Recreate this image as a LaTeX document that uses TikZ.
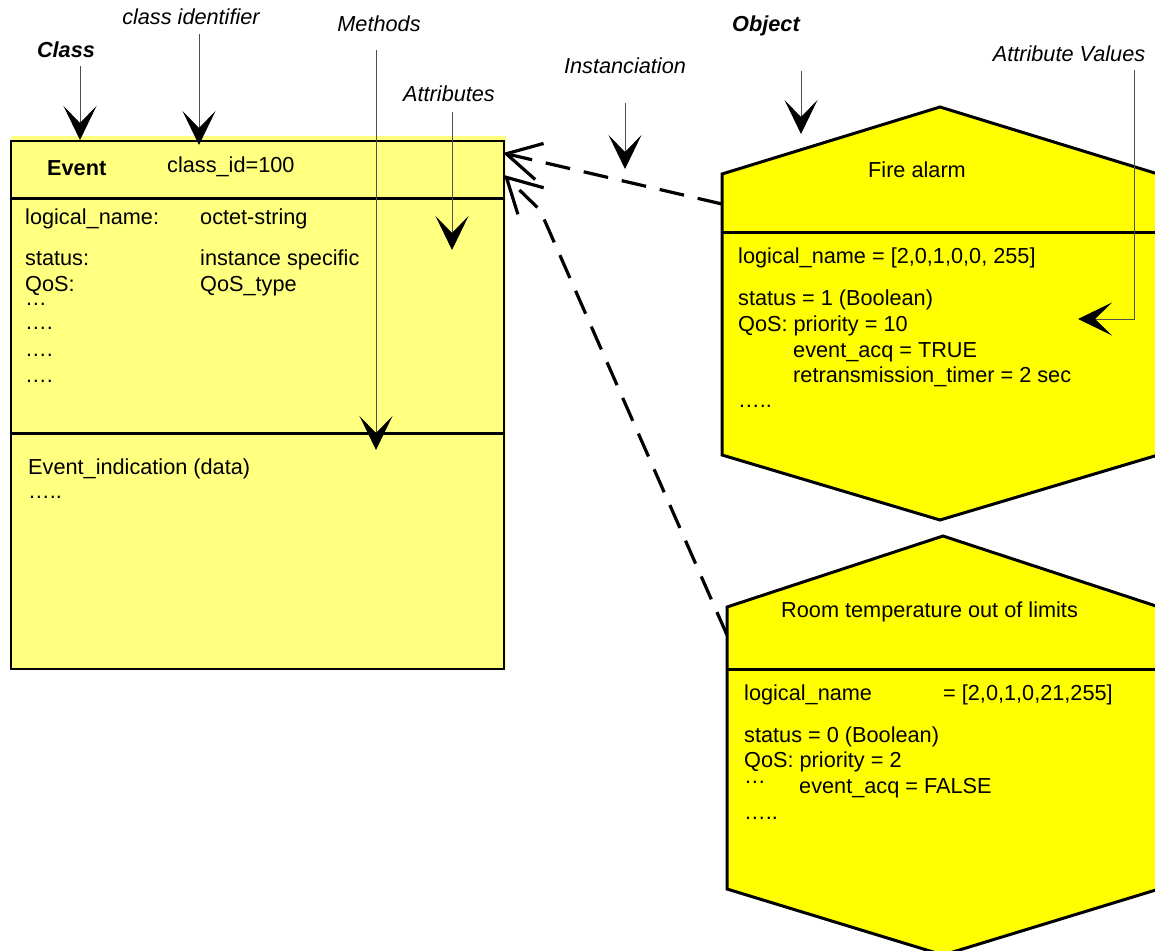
\documentclass[tikz,border=0pt]{standalone}
\usepackage{fontspec}
\setmainfont{Liberation Sans}
\usetikzlibrary{arrows.meta}
\definecolor{classyellow}{RGB}{255,255,128}
\definecolor{objyellow}{RGB}{255,255,0}
\definecolor{pointercol}{RGB}{80,80,80}
\newcommand{\dgfont}{\fontsize{21.7}{26}\selectfont}
\begin{document}
\begin{tikzpicture}[x=1pt,y=-1pt,
  txt/.style={anchor=base west, inner sep=0pt, font=\dgfont},
  ctxt/.style={anchor=base, inner sep=0pt, font=\dgfont},
  lbl/.style={anchor=base, inner sep=0pt, font=\dgfont\itshape},
  blbl/.style={anchor=base, inner sep=0pt, font=\dgfont\bfseries\itshape},
  pointer/.style={draw=pointercol, line width=0.9pt,
    -{Stealth[length=34pt,width=33pt,inset=17pt,color=black]}},
  inst/.style={line width=3.2pt, dash pattern=on 25pt off 14pt,
    -{Straight Barb[length=34pt,width=37pt]}},
  hexa/.style={draw=black, fill=objyellow, line width=3pt, line join=miter},
  divider/.style={line width=3pt}
]
\useasboundingbox (0,0) rectangle (1155,950);

% ---------- Class box ----------
\fill[classyellow] (11,136) rectangle (506,668);
\node[draw=black, line width=1.6pt, minimum width=493pt, minimum height=528pt,
      inner sep=0pt, anchor=north west] (cls) at (10,140) {};
\draw[divider] (cls.west |- 0,198) -- (cls.east |- 0,198);
\draw[divider] (cls.west |- 0,433) -- (cls.east |- 0,433);

\node[txt, font=\dgfont\bfseries] (cname) at (47,175) {Event};
\node[txt] (cid) at (167,172) {class\_id=100};
\node[txt] (a1) at (25,224) {logical\_name:};
\node[txt] (a1t) at (200,224) {octet-string};
\node[txt] (a2) at (25,265) {status:};
\node[txt] (a2t) at (200,265) {instance specific};
\node[txt] (a3) at (25,291) {QoS:};
\node[txt] (a3t) at (200,291) {QoS\_type};
\node[txt] (a4) at (25,305) {…};
\node[txt] (a5) at (25,329) {….};
\node[txt] (a6) at (25,356) {….};
\node[txt] (a7) at (25,382) {….};
\node[txt] (m1) at (28,474) {Event\_indication (data)};
\node[txt] (m2) at (28,498) {…..};

% ---------- Object 1: Fire alarm ----------
\coordinate (fa-t) at (940,107);
\coordinate (fa-tr) at (1158,174);
\coordinate (fa-br) at (1158,455);
\coordinate (fa-b) at (940,520);
\coordinate (fa-bl) at (722,455);
\coordinate (fa-tl) at (722,174);
\draw[hexa] (fa-t) -- (fa-tr) -- (fa-br) -- (fa-b) -- (fa-bl) -- (fa-tl) -- cycle;
\draw[divider] (fa-tl |- 0,232) -- (fa-tr |- 0,232);
\node[ctxt] (fatitle) at (917,177) {Fire alarm};
\node[txt] (f1) at (738,263) {logical\_name = [2,0,1,0,0, 255]};
\node[txt] (f2) at (738,305) {status = 1 (Boolean)};
\node[txt] (f3) at (738,331) {QoS: priority = 10};
\node[txt] (f4) at (793,357) {event\_acq = TRUE};
\node[txt] (f5) at (793,382) {retransmission\_timer = 2 sec};
\node[txt] (f6) at (738,407) {…..};

% ---------- Object 2: Room temperature ----------
\coordinate (rt-t) at (943,536);
\coordinate (rt-tr) at (1159,607);
\coordinate (rt-br) at (1159,889);
\coordinate (rt-b) at (943,955);
\coordinate (rt-bl) at (727,889);
\coordinate (rt-tl) at (727,607);
\draw[hexa] (rt-t) -- (rt-tr) -- (rt-br) -- (rt-b) -- (rt-bl) -- (rt-tl) -- cycle;
\draw[divider] (rt-tl |- 0,669) -- (rt-tr |- 0,669);
\node[txt] (rttitle) at (781,617) {Room temperature out of limits};
\node[txt] (r1) at (744,700) {logical\_name};
\node[txt] (r1t) at (943,700) {= [2,0,1,0,21,255]};
\node[txt] (r2) at (744,742) {status = 0 (Boolean)};
\node[txt] (r3) at (744,767) {QoS: priority = 2};
\node[txt] (r4) at (744,783) {…};
\node[txt] (r5) at (799,793) {event\_acq = FALSE};
\node[txt] (r6) at (744,819) {…..};

% ---------- Instanciation connectors ----------
\coordinate (fa-att) at (722,204);
\coordinate (cls-in1) at (503,153);
\coordinate (rt-att) at (727,635);
\coordinate (bend) at (540,210);
\coordinate (cls-in2) at (504,175);
\draw[inst] (fa-att) -- (cls-in1);
\draw[inst] (rt-att) -- (bend) -- (cls-in2);

% ---------- Annotation labels and pointers ----------
\node[blbl] (lclass) at (66,58) {Class};
\node[lbl] (lclassid) at (191,25) {class identifier};
\node[lbl] (lmeth) at (379,32) {Methods};
\node[lbl] (lattr) at (449,101) {Attributes};
\node[lbl] (linst) at (625,73) {Instanciation};
\node[blbl] (lobj) at (766,32) {Object};
\node[lbl] (lval) at (1069,62) {Attribute Values};

\coordinate (s1) at (80,66);    \coordinate (e1) at (80,140);
\coordinate (s2) at (199,34);   \coordinate (e2) at (199,145);
\coordinate (s3) at (376,50);   \coordinate (e3) at (376,450);
\coordinate (s4) at (452,112);  \coordinate (e4) at (452,250);
\coordinate (s5) at (625,103);  \coordinate (e5) at (625,169);
\coordinate (s6) at (801,71);   \coordinate (e6) at (801,134);
\coordinate (s7) at (1134,70);  \coordinate (e7) at (1078,319);

\draw[pointer] (s1) -- (e1);
\draw[pointer] (s2) -- (e2);
\draw[pointer] (s3) -- (e3);
\draw[pointer] (s4) -- (e4);
\draw[pointer] (s5) -- (e5);
\draw[pointer] (s6) -- (e6);
\draw[pointer] (s7) |- (e7);
\end{tikzpicture}
\end{document}
